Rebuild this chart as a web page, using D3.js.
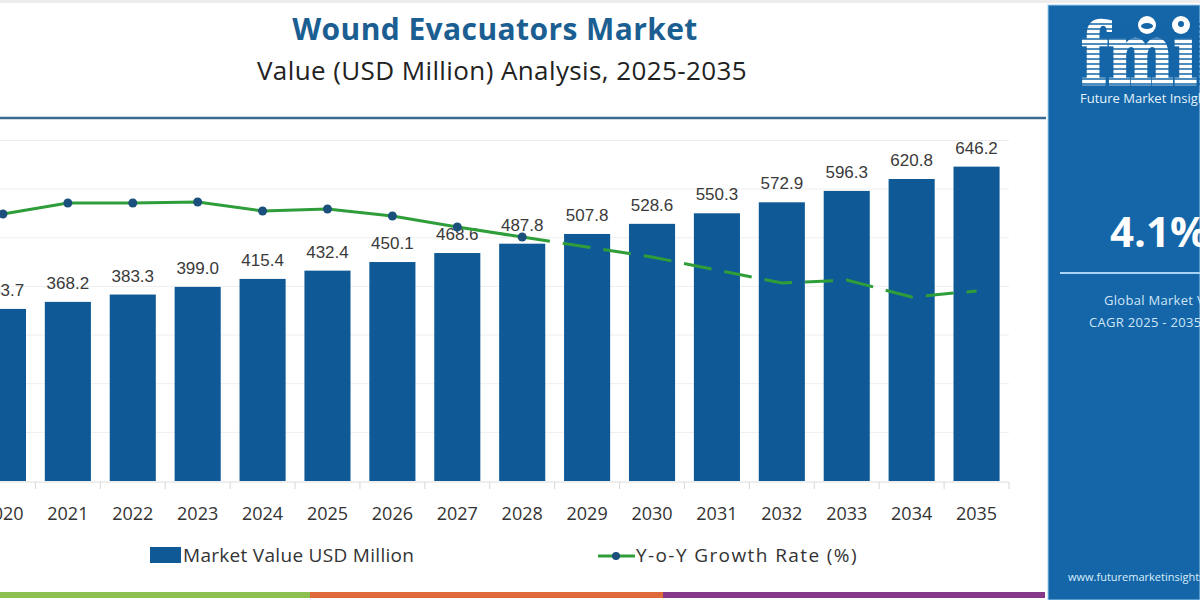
<!DOCTYPE html>
<html>
<head>
    <title>Wound Evacuators Market</title>
    <script src="https://d3js.org/d3.v7.min.js"></script>
    <style>
        body { margin: 0; background: #ffffff; }
        svg { display: block; }
    </style>
</head>
<body>
    <svg width="1200" height="600"></svg>
    <script>
        // data
        const years = ["2020", "2021", "2022", "2023", "2024", "2025", "2026", "2027",
                       "2028", "2029", "2030", "2031", "2032", "2033", "2034", "2035"];
        const marketValue = [353.7, 368.2, 383.3, 399.0, 415.4, 432.4, 450.1, 468.6,
                             487.8, 507.8, 528.6, 550.3, 572.9, 596.3, 620.8, 646.2];
        // y-o-y growth (%), estimated from the line position (no axis shown)
        const growthRate = [4.172, 4.194, 4.194, 4.196, 4.178, 4.182, 4.168, 4.146,
                            4.126, 4.106, 4.086, 4.060, 4.034, 4.040, 4.006, 4.018];
        const lastActual = "2028";

        const barColor = "#0f5a96";
        const lineColor = "#2f9e3a";
        const dotColor = "#1b4f7c";
        const panelColor = "#1466a8";

        const svg = d3.select("svg");

        // light strip along the top edge
        svg.append("rect").attr("x", 0).attr("y", 0).attr("width", 1200).attr("height", 3)
            .attr("fill", "#ececec");

        // titles
        svg.append("text")
            .attr("x", 495).attr("y", 40)
            .attr("text-anchor", "middle")
            .attr("font-family", "'Open Sans', sans-serif")
            .attr("font-weight", 700)
            .attr("font-size", 30)
            .attr("letter-spacing", 0.4)
            .attr("fill", "#1b5e92")
            .text("Wound Evacuators Market");

        svg.append("text")
            .attr("x", 502).attr("y", 80)
            .attr("text-anchor", "middle")
            .attr("font-family", "'Open Sans', sans-serif")
            .attr("font-size", 26)
            .attr("letter-spacing", 0.4)
            .attr("fill", "#222")
            .text("Value (USD Million) Analysis, 2025-2035");

        svg.append("line")
            .attr("x1", 0).attr("x2", 1046)
            .attr("y1", 118).attr("y2", 118)
            .attr("stroke", "#3a6a90")
            .attr("stroke-width", 2.5);

        // scales
        const x = d3.scaleBand()
            .domain(years)
            .range([-29.5, 1009])
            .paddingInner(0.29)
            .paddingOuter(0.145);

        const y = d3.scaleLinear()
            .domain([0, 740])
            .range([481, 121]);

        const yGrowth = d3.scaleLinear()
            .domain([4.0, 4.2])
            .range([300, 200]);

        const g = svg.append("g");

        // faint grid
        g.selectAll(".grid")
            .data(y.ticks(7).filter(d => d > 0))
            .enter()
            .append("line")
            .attr("class", "grid")
            .attr("x1", 0).attr("x2", 1009)
            .attr("y1", d => y(d)).attr("y2", d => y(d))
            .attr("stroke", "#eeeeee")
            .attr("stroke-width", 1);

        // bars
        g.selectAll(".bar")
            .data(years)
            .enter()
            .append("rect")
            .attr("class", "bar")
            .attr("x", d => x(d))
            .attr("width", x.bandwidth())
            .attr("y", (d, i) => y(marketValue[i]))
            .attr("height", (d, i) => y(0) - y(marketValue[i]))
            .attr("fill", barColor);

        // value labels
        g.selectAll(".val")
            .data(years)
            .enter()
            .append("text")
            .attr("class", "val")
            .attr("x", d => x(d) + x.bandwidth() / 2)
            .attr("y", (d, i) => y(marketValue[i]) - 13)
            .attr("text-anchor", "middle")
            .attr("font-family", "'Liberation Sans', Arial, sans-serif")
            .attr("font-size", 17)
            .attr("fill", "#3a3a3a")
            .text((d, i) => marketValue[i].toFixed(1));

        // x axis: light baseline with ticks between bands
        const xAxis = g.append("g").attr("transform", "translate(0," + (y(0) + 1) + ")");
        xAxis.append("line")
            .attr("x1", x.range()[0]).attr("x2", x.range()[1])
            .attr("y1", 0).attr("y2", 0)
            .attr("stroke", "#dddddd");
        xAxis.selectAll(".tick")
            .data(years)
            .enter()
            .append("line")
            .attr("class", "tick")
            .attr("x1", d => x(d) + x.step() - x.step() * x.paddingInner() / 2)
            .attr("x2", d => x(d) + x.step() - x.step() * x.paddingInner() / 2)
            .attr("y1", 0).attr("y2", 7)
            .attr("stroke", "#d6d6d6");
        xAxis.selectAll(".yr")
            .data(years)
            .enter()
            .append("text")
            .attr("class", "yr")
            .attr("x", d => x(d) + x.bandwidth() / 2)
            .attr("y", 38)
            .attr("text-anchor", "middle")
            .attr("font-family", "'Open Sans', sans-serif")
            .attr("font-size", 18)
            .attr("fill", "#333")
            .text(d => d);

        // growth line: solid for actuals, dashed for forecast
        const growthPts = years.map((d, i) => ({ year: d, rate: growthRate[i] }));
        const cut = years.indexOf(lastActual);
        const line = d3.line()
            .x(d => x(d.year) + x.bandwidth() / 2)
            .y(d => yGrowth(d.rate));

        g.append("path")
            .datum(growthPts.slice(0, cut + 1))
            .attr("d", line)
            .attr("fill", "none")
            .attr("stroke", lineColor)
            .attr("stroke-width", 3);

        g.append("path")
            .datum(growthPts.slice(cut))
            .attr("d", line)
            .attr("fill", "none")
            .attr("stroke", lineColor)
            .attr("stroke-width", 3)
            .attr("stroke-dasharray", "28,13");

        g.selectAll(".dot")
            .data(growthPts.slice(0, cut + 1))
            .enter()
            .append("circle")
            .attr("class", "dot")
            .attr("cx", d => x(d.year) + x.bandwidth() / 2)
            .attr("cy", d => yGrowth(d.rate))
            .attr("r", 4.5)
            .attr("fill", dotColor);

        // legend
        const legend = svg.append("g");
        legend.append("rect")
            .attr("x", 150).attr("y", 547)
            .attr("width", 31).attr("height", 16)
            .attr("fill", barColor);
        legend.append("text")
            .attr("x", 183).attr("y", 562)
            .attr("font-family", "'Open Sans', sans-serif")
            .attr("font-size", 19)
            .attr("letter-spacing", 0.3)
            .attr("fill", "#333")
            .text("Market Value USD Million");
        legend.append("line")
            .attr("x1", 598).attr("x2", 635)
            .attr("y1", 556).attr("y2", 556)
            .attr("stroke", lineColor)
            .attr("stroke-width", 3);
        legend.append("circle")
            .attr("cx", 616).attr("cy", 556).attr("r", 4)
            .attr("fill", dotColor);
        legend.append("text")
            .attr("x", 636).attr("y", 562)
            .attr("font-family", "'Open Sans', sans-serif")
            .attr("font-size", 19)
            .attr("letter-spacing", 1.4)
            .attr("fill", "#333")
            .text("Y-o-Y Growth Rate (%)");

        // coloured strip at the bottom
        const strips = [
            { x0: 0, x1: 310, c: "#8cc152" },
            { x0: 310, x1: 663, c: "#e0693a" },
            { x0: 663, x1: 1045, c: "#86388a" }
        ];
        svg.selectAll(".strip")
            .data(strips)
            .enter()
            .append("rect")
            .attr("class", "strip")
            .attr("x", d => d.x0).attr("width", d => d.x1 - d.x0)
            .attr("y", 592).attr("height", 6)
            .attr("fill", d => d.c);

        // right panel
        const panel = svg.append("g");
        panel.append("rect")
            .attr("x", 1048).attr("y", 5)
            .attr("width", 152).attr("height", 595)
            .attr("fill", panelColor)
            .attr("stroke", "#9fcdf0")
            .attr("stroke-width", 1);

        // fmi logo, striped
        const logo = panel.append("g").attr("transform", "translate(1081,84) scale(0.74,1)");
        logo.append("text")
            .attr("x", 0).attr("y", 0)
            .attr("font-family", "'DejaVu Serif', serif")
            .attr("font-weight", 700)
            .attr("font-size", 84)
            .attr("fill", "#ffffff")
            .attr("stroke", "#ffffff")
            .attr("stroke-width", 2.5)
            .text("fmı");
        panel.selectAll(".stripe")
            .data(d3.range(24, 86, 5))
            .enter()
            .append("line")
            .attr("class", "stripe")
            .attr("x1", 1076).attr("x2", 1200)
            .attr("y1", d => d).attr("y2", d => d)
            .attr("stroke", panelColor)
            .attr("stroke-width", 1.3);
        panel.append("circle").attr("cx", 1147).attr("cy", 25).attr("r", 9).attr("fill", "#ffffff");
        panel.append("ellipse").attr("cx", 1147).attr("cy", 26).attr("rx", 6).attr("ry", 3).attr("fill", panelColor);
        panel.append("circle").attr("cx", 1181).attr("cy", 25).attr("r", 9).attr("fill", "#ffffff");
        panel.append("circle").attr("cx", 1181).attr("cy", 24).attr("r", 3).attr("fill", panelColor);

        panel.append("text")
            .attr("x", 1080).attr("y", 103)
            .attr("font-family", "'Open Sans', sans-serif")
            .attr("font-size", 13)
            .attr("fill", "#e6f2fc")
            .text("Future Market Insights");

        panel.append("text")
            .attr("x", 1110).attr("y", 247)
            .attr("font-family", "'Open Sans', sans-serif")
            .attr("font-weight", 700)
            .attr("font-size", 42)
            .attr("fill", "#ffffff")
            .text("4.1%");

        panel.append("line")
            .attr("x1", 1060).attr("x2", 1200)
            .attr("y1", 273).attr("y2", 273)
            .attr("stroke", "#a9d3f5")
            .attr("stroke-width", 2);

        panel.append("text")
            .attr("x", 1104).attr("y", 305)
            .attr("font-family", "'Open Sans', sans-serif")
            .attr("font-size", 13)
            .attr("letter-spacing", 0.3)
            .attr("fill", "#cfe5f7")
            .text("Global Market Value");
        panel.append("text")
            .attr("x", 1089).attr("y", 327)
            .attr("font-family", "'Open Sans', sans-serif")
            .attr("font-size", 13)
            .attr("letter-spacing", 0.3)
            .attr("fill", "#cfe5f7")
            .text("CAGR 2025 - 2035");

        panel.append("text")
            .attr("x", 1068).attr("y", 581)
            .attr("font-family", "'Open Sans', sans-serif")
            .attr("font-size", 11)
            .attr("fill", "#dbeefc")
            .text("www.futuremarketinsights.com");
    </script>
</body>
</html>
